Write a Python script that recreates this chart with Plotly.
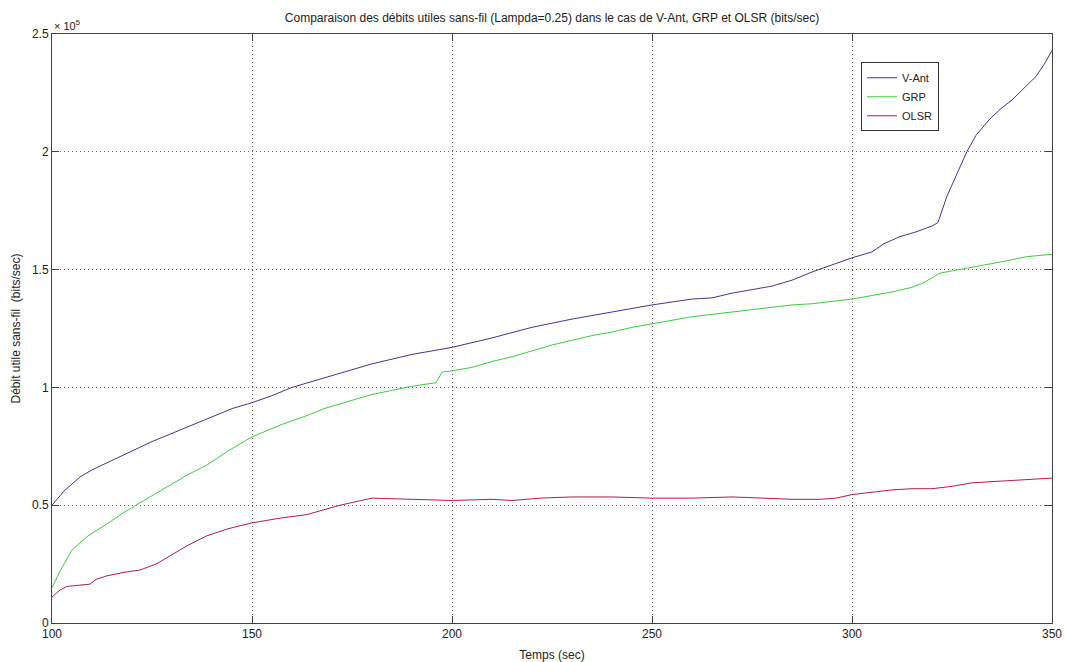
import plotly.graph_objects as go

# Time axis (sec) and throughput values (bits/sec)
t_vant = [100, 103, 107, 110, 115, 120, 125, 130, 135, 140, 145, 150, 155, 160, 165, 170, 175, 180,
          190, 200, 210, 220, 230, 240, 250, 260, 265, 270, 275, 280, 285, 290, 295, 300, 305, 308,
          312, 316, 320, 321.5, 323.7, 325, 327, 328.7, 331, 334.5, 337, 340, 343, 346, 348, 350]
v_ant = [50000, 56000, 62000, 65000, 69000, 73000, 77000, 80500, 84000, 87500, 91000, 93500, 96500,
         100000, 102500, 105000, 107500, 110000, 114000, 117000, 121000, 125500, 129000, 132000, 135000,
         137500, 138000, 140000, 141500, 143000, 145500, 149000, 152000, 155000, 157500, 161000,
         164000, 166000, 168500, 170000, 181000, 186000, 193000, 200000, 207000, 214000, 218000,
         222000, 227000, 232000, 237000, 243000]

t_grp = [100, 102, 105, 109, 113.7, 118, 122, 126, 130, 134, 138.7, 144, 150, 157, 163.7, 168, 172,
         180, 190, 196, 197.5, 200, 205, 210, 215, 220, 225, 230, 235, 240, 245, 250, 255, 260, 265,
         270, 275, 280, 285, 290, 295, 300, 305, 310, 315, 318, 322, 327, 332.7, 338, 343.7, 350]
grp = [15000, 22000, 31000, 37000, 42000, 47000, 51000, 55000, 59000, 63000, 67000, 73000, 79000,
       84000, 88000, 91000, 93000, 97000, 100500, 102000, 106500, 107000, 108500, 111000, 113000,
       115500, 118000, 120000, 122000, 123500, 125500, 127000, 128500, 130000, 131000, 132000,
       133000, 134000, 135000, 135500, 136500, 137500, 139000, 140500, 142500, 144500, 148500,
       150000, 152000, 153500, 155500, 156500]

t_olsr = [100, 102, 103.7, 106, 109.5, 111, 113.7, 118, 122, 126, 130, 134, 138.7, 144, 150, 157,
          163.7, 168, 172, 176, 180, 190, 200, 210, 215, 222, 230, 240, 250, 260, 270, 278, 285,
          292, 296, 300, 305, 310, 315, 320, 325, 330, 335, 340, 345, 350]
olsr = [11000, 14000, 15500, 16000, 16500, 18500, 20000, 21500, 22500, 25000, 29000, 33000, 37000,
        40000, 42500, 44500, 46000, 48000, 50000, 51500, 53000, 52500, 52000, 52500, 52000, 53000,
        53500, 53500, 53000, 53000, 53500, 53000, 52500, 52500, 53000, 54500, 55500, 56500, 57000,
        57000, 58000, 59500, 60000, 60500, 61000, 61500]

x_ticks = [100, 150, 200, 250, 300, 350]
y_ticks = [0, 50000, 100000, 150000, 200000, 250000]
y_tick_labels = ["0", "0.5", "1", "1.5", "2", "2.5"]

FONT = "Liberation Sans, Arial, sans-serif"

fig = go.Figure()
fig.add_trace(go.Scatter(x=t_vant, y=v_ant, mode="lines", name="V-Ant",
                         line=dict(color="#3a3a92", width=1)))
fig.add_trace(go.Scatter(x=t_grp, y=grp, mode="lines", name="GRP",
                         line=dict(color="#3fcc3f", width=1)))
fig.add_trace(go.Scatter(x=t_olsr, y=olsr, mode="lines", name="OLSR",
                         line=dict(color="#b02040", width=1)))

axis_common = dict(showline=True, linecolor="#444444", linewidth=1, mirror="ticks",
                   ticks="inside", ticklen=7, tickcolor="#444444", automargin=False,
                   showgrid=True, gridcolor="#666666", griddash="1px,3px", gridwidth=1,
                   zeroline=False, tickfont=dict(family=FONT, size=12, color="#222222"))

FIG_W, FIG_H = 1065, 662
fig.update_layout(
    width=FIG_W, height=FIG_H,
    paper_bgcolor="white", plot_bgcolor="white",
    margin=dict(l=52, r=13, t=34, b=39),
    title=dict(text="Comparaison des débits utiles sans-fil (Lampda=0.25) dans le cas de V-Ant, GRP et OLSR (bits/sec)",
               x=0.5, xanchor="center", xref="paper", y=1 - 18 / FIG_H, yref="container", yanchor="middle",
               font=dict(family=FONT, size=12, color="#222222")),
    xaxis=dict(range=[100, 350], tickvals=x_ticks,
               title=dict(text="Temps (sec)", standoff=10, font=dict(family=FONT, size=12, color="#222222")),
               **axis_common),
    yaxis=dict(range=[0, 250000], tickvals=y_ticks, ticktext=y_tick_labels,
               title=dict(text="Débit utile sans-fil  (bits/sec)", standoff=8,
                          font=dict(family=FONT, size=12, color="#222222")),
               **axis_common),
    legend=dict(x=0.809, y=0.952, xanchor="left", yanchor="top",
                bgcolor="white", bordercolor="#333333", borderwidth=1,
                font=dict(family=FONT, size=11, color="#222222"),
                tracegroupgap=0),
    showlegend=True,
)

fig.add_annotation(text="× 10<sup>5</sup>", xref="paper", yref="paper", x=0.0, y=1.0,
                   xanchor="left", yanchor="bottom", showarrow=False,
                   font=dict(family=FONT, size=11, color="#222222"))

# Remove the default page margin so the figure fills the 1065x662 window exactly.
fig.write_html("out.html",
               config={"displayModeBar": False},
               post_script="document.body.style.margin='0';document.body.style.overflow='hidden';")
